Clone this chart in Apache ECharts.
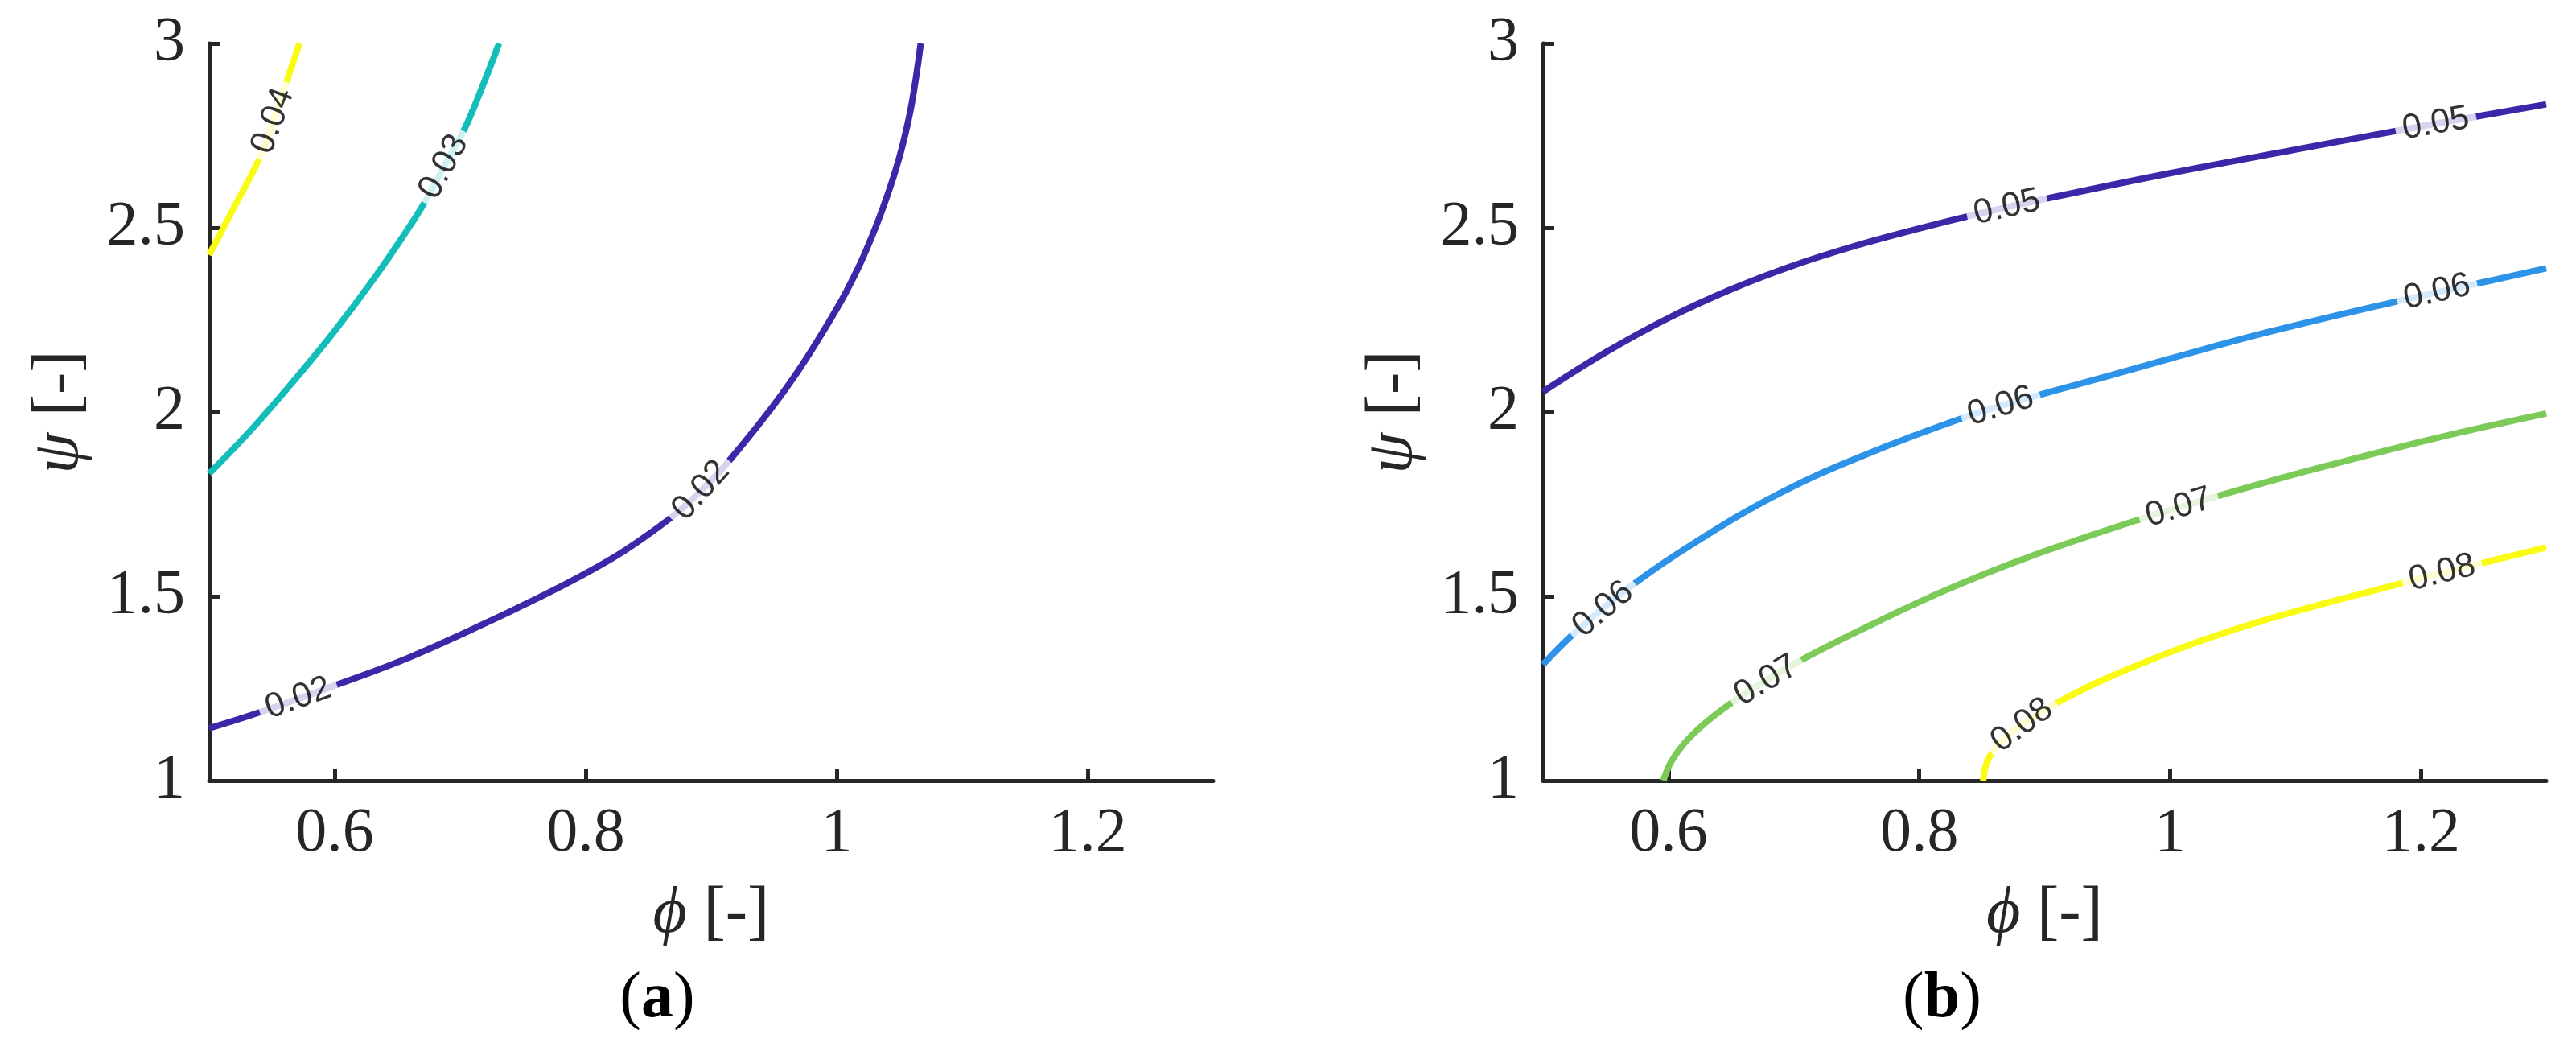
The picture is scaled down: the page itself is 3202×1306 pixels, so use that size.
<!DOCTYPE html>
<html><head><meta charset="utf-8">
<script src="https://cdn.jsdelivr.net/npm/echarts@6/dist/echarts.min.js"></script>
<style>html,body{margin:0;padding:0;background:#fff}#c{width:3202px;height:1306px}</style>
</head><body><div id="c"></div>
<script>
// ---- data ----
const xTicks = [0.6, 0.8, 1, 1.2];
const yTicks = [1, 1.5, 2, 2.5, 3];
const levelsA = ['0.02', '0.03', '0.04'];
const levelsB = ['0.05', '0.06', '0.07', '0.08'];

const curveA002 = [[0.5,1.142],[0.54,1.185],[0.6,1.258],[0.66,1.335],[0.725,1.435],[0.8,1.562],[0.85,1.668],[0.89,1.78],[0.927,1.92],[0.965,2.09],[1.0,2.28],[1.017,2.39],[1.0285,2.48],[1.0375,2.56],[1.0455,2.64],[1.053,2.73],[1.06,2.84],[1.067,3.0]];
const curveA003 = [[0.5,1.833],[0.533,1.95],[0.568,2.087],[0.6,2.22],[0.633,2.37],[0.659,2.50],[0.671,2.565],[0.687,2.665],[0.703,2.765],[0.715,2.86],[0.731,3.0]];
const curveA004 = [[0.5,2.426],[0.519,2.55],[0.54,2.688],[0.551,2.79],[0.562,2.90],[0.572,3.0]];

const curveB005 = [[0.5,2.055],[0.55,2.162],[0.6,2.255],[0.65,2.333],[0.7,2.398],[0.75,2.452],[0.8,2.498],[0.85,2.54],[0.9,2.578],[1.0,2.648],[1.1,2.712],[1.2,2.775],[1.3,2.835]];
const curveB006 = [[0.5,1.315],[0.525,1.40],[0.571,1.53],[0.623,1.65],[0.689,1.78],[0.754,1.88],[0.84,1.99],[0.889,2.04],[0.951,2.098],[1.0,2.145],[1.082,2.22],[1.187,2.305],[1.24,2.345],[1.3,2.39]];
const curveB007 = [[0.596,1.0],[0.602,1.05],[0.615,1.11],[0.636,1.175],[0.665,1.245],[0.702,1.32],[0.754,1.41],[0.82,1.515],[0.886,1.605],[0.977,1.71],[1.036,1.77],[1.115,1.845],[1.213,1.93],[1.3,1.996]];
const curveB008 = [[0.851,1.0],[0.853,1.04],[0.858,1.075],[0.87,1.12],[0.89,1.17],[0.912,1.215],[0.951,1.28],[1.017,1.37],[1.082,1.442],[1.19,1.54],[1.243,1.585],[1.3,1.633]];

// contour label anchors: [x, y, curve index]
const labelsA = [[0.571,1.223,0],[0.892,1.787,0],[0.687,2.665,1],[0.551,2.79,2]];
const labelsB = [[0.87,2.555,0],[1.212,2.782,0],[0.548,1.465,1],[0.865,2.015,1],[1.213,2.325,1],[0.678,1.271,2],[1.007,1.74,2],[0.882,1.15,3],[1.217,1.563,3]];

const curvesA = [curveA002, curveA003, curveA004];
const curvesB = [curveB005, curveB006, curveB007, curveB008];
const colorsA = ['#3d26a8', '#13bdb9', '#f9fb15'];
const colorsB = ['#3d26a8', '#2c93e8', '#7ccb58', '#f9fb15'];

// ---- chart ----
const AX = '#262626';
const SERIF = '"Liberation Serif","Times New Roman",serif';
const SANS = '"Liberation Sans",Arial,sans-serif';
const chart = echarts.init(document.getElementById('c'), null, {renderer: 'canvas'});

function xAxis(g) {
  return {
    gridIndex: g, type: 'value', min: 0.5, max: 1.3,
    axisLine: {show: true, onZero: false, lineStyle: {color: AX, width: 5}},
    axisTick: {show: true, inside: true, length: 14, customValues: xTicks, lineStyle: {color: AX, width: 5}},
    axisLabel: {customValues: xTicks, margin: 28, fontFamily: SERIF, fontSize: 78, color: AX, formatter: v => String(v)},
    splitLine: {show: false},
    name: '{i|ϕ} [-]', nameLocation: 'middle', nameGap: 125,
    nameTextStyle: {fontFamily: SERIF, fontSize: 82, color: AX,
      rich: {i: {fontFamily: SERIF, fontStyle: 'italic', fontSize: 82, color: AX}}}
  };
}
function yAxis(g) {
  return {
    gridIndex: g, type: 'value', min: 1, max: 3, interval: 0.5,
    axisLine: {show: true, onZero: false, lineStyle: {color: AX, width: 5}},
    axisTick: {show: true, inside: true, length: 14, lineStyle: {color: AX, width: 5}},
    axisLabel: {margin: 30, fontFamily: SERIF, fontSize: 78, color: AX, formatter: v => String(v)},
    splitLine: {show: false},
    name: '{i|ψ} [-]', nameLocation: 'middle', nameGap: 145, nameRotate: 90,
    nameTextStyle: {fontFamily: SERIF, fontSize: 82, color: AX,
      rich: {i: {fontFamily: SERIF, fontStyle: 'italic', fontSize: 82, color: AX}}}
  };
}

function angleFor(g, curve, x) {
  let i = 0;
  while (i < curve.length - 2 && curve[i + 1][0] < x) i++;
  const p1 = chart.convertToPixel({gridIndex: g}, curve[i]);
  const p2 = chart.convertToPixel({gridIndex: g}, curve[i + 1]);
  let a = -Math.atan2(p2[1] - p1[1], p2[0] - p1[0]) * 180 / Math.PI;
  if (a > 90) a -= 180;
  if (a < -90) a += 180;
  return a;
}

function panelSeries(g, curves, colors, levels, labels, withAngles) {
  const s = curves.map((c, i) => ({
    type: 'line', xAxisIndex: g, yAxisIndex: g, data: c, showSymbol: false,
    smooth: 0.4, silent: true, z: 2,
    lineStyle: {color: colors[i], width: 8}
  }));
  s.push({
    type: 'scatter', xAxisIndex: g, yAxisIndex: g, symbolSize: 1, silent: true, z: 5,
    itemStyle: {color: 'rgba(0,0,0,0)'},
    data: labels.map(l => ({
      name: levels[l[2]], value: [l[0], l[1]],
      label: {rotate: withAngles ? angleFor(g, curves[l[2]], l[0]) : 0}
    })),
    label: {show: true, position: 'inside', formatter: '{b}', fontFamily: SANS, fontSize: 43,
      color: '#000', backgroundColor: '#fff', padding: [2, 9], align: 'center', verticalAlign: 'middle'}
  });
  return s;
}

function buildOption(withAngles) {
  return {
    animation: false,
    backgroundColor: '#fff',
    grid: [
      {left: 260, top: 54, width: 1248, height: 916},
      {left: 1918, top: 54, width: 1247, height: 916}
    ],
    xAxis: [xAxis(0), xAxis(1)],
    yAxis: [yAxis(0), yAxis(1)],
    series: [].concat(
      panelSeries(0, curvesA, colorsA, levelsA, labelsA, withAngles),
      panelSeries(1, curvesB, colorsB, levelsB, labelsB, withAngles)
    ),
    graphic: [
      {type: 'text', x: 817, y: 1242, style: {text: '{p|(}{b|a}{p|)}', align: 'center', verticalAlign: 'middle',
        rich: {p: {fontFamily: SERIF, fontSize: 80, fill: '#000'}, b: {fontFamily: SERIF, fontSize: 80, fontWeight: 'bold', fill: '#000'}}}},
      {type: 'text', x: 2414, y: 1242, style: {text: '{p|(}{b|b}{p|)}', align: 'center', verticalAlign: 'middle',
        rich: {p: {fontFamily: SERIF, fontSize: 80, fill: '#000'}, b: {fontFamily: SERIF, fontSize: 80, fontWeight: 'bold', fill: '#000'}}}}
    ]
  };
}

chart.setOption(buildOption(false));
chart.setOption(buildOption(true), {notMerge: true});
</script>
</body></html>
